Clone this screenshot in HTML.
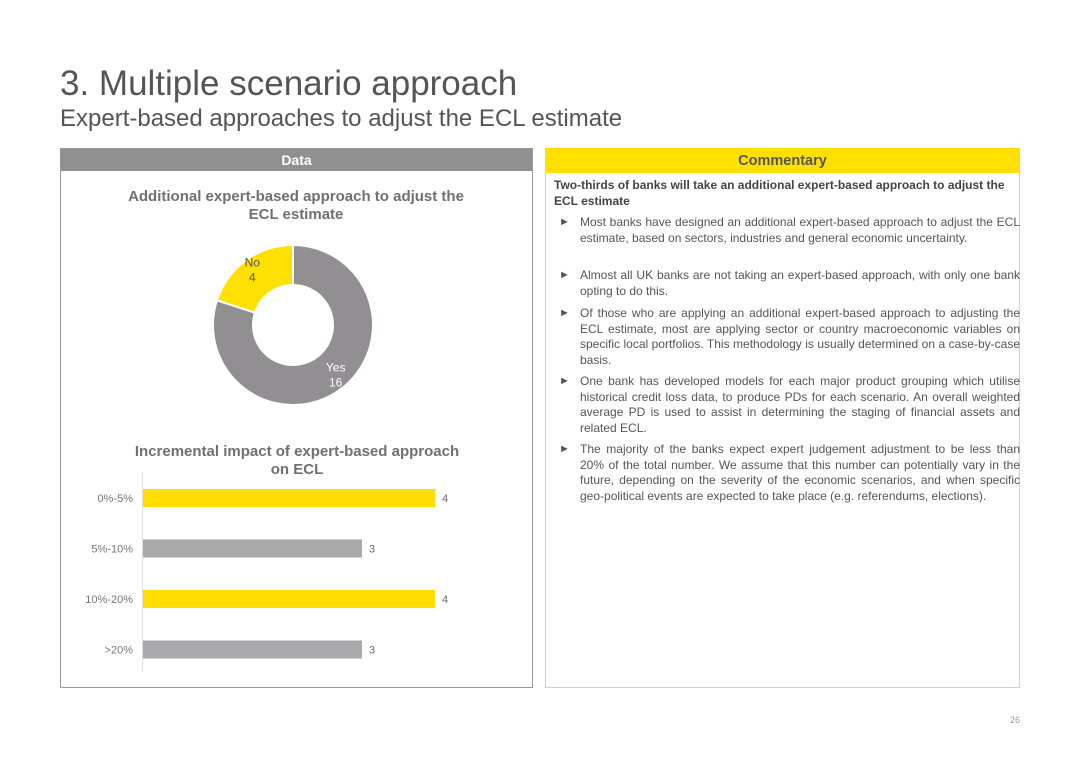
<!DOCTYPE html>
<html><head><meta charset="utf-8"><style>
body{margin:0;width:1080px;height:764px;background:#fff;font-family:"Liberation Sans",sans-serif;position:relative;overflow:hidden;color:#555}
.abs{position:absolute}
#c p{margin:0}
.b{position:absolute;left:26px;width:440px;text-align:justify;font-size:12px;line-height:15.5px;color:#555}
.b:before{content:"►";position:absolute;left:-21px;font-size:11px}
</style></head><body>
<div class="abs" style="left:60px;top:64px;font-size:35px;color:#555">3. Multiple scenario approach</div>
<div class="abs" style="left:60px;top:105px;font-size:24px;color:#555">Expert-based approaches to adjust the ECL estimate</div>

<div class="abs" style="left:60px;top:148px;width:471px;height:538px;border:1px solid #999">
 <div style="background:#918f92;color:#fff;font-weight:bold;text-align:center;height:22px;line-height:22px;font-size:14px">Data</div>
</div>
<svg class="abs" style="left:0;top:0" width="1080" height="764">
 <g id="donut"></g>
 <g id="bars"></g>
 <text x="296" y="201" text-anchor="middle" font-size="15" font-weight="bold" fill="#707070">Additional expert-based approach to adjust the</text>
 <text x="296" y="219" text-anchor="middle" font-size="15" font-weight="bold" fill="#707070">ECL estimate</text>
 <text x="297" y="456" text-anchor="middle" font-size="15" font-weight="bold" fill="#707070">Incremental impact of expert-based approach</text>
 <text x="297" y="474" text-anchor="middle" font-size="15" font-weight="bold" fill="#707070">on ECL</text>
</svg>

<div id="c" class="abs" style="left:545px;top:148px;width:473px;height:538px;border:1px solid #ffe000">
 <div style="background:#ffe000;color:#555;font-weight:bold;text-align:center;height:24px;line-height:24px;font-size:14.5px">Commentary</div>
 <div style="position:relative;margin-left:8px">
 <p style="position:absolute;top:5px;width:466px;font-weight:bold;font-size:12px;line-height:15.5px;color:#444">Two-thirds of banks will take an additional expert-based approach to adjust the ECL estimate</p>
 <p class="b" style="top:42px">Most banks have designed an additional expert-based approach to adjust the ECL estimate, based on sectors, industries and general economic uncertainty.</p>
 <p class="b" style="top:95px">Almost all UK banks are not taking an expert-based approach, with only one bank opting to do this.</p>
 <p class="b" style="top:133px">Of those who are applying an additional expert-based approach to adjusting the ECL estimate, most are applying sector or country macroeconomic variables on specific local portfolios. This methodology is usually determined on a case-by-case basis.</p>
 <p class="b" style="top:201px">One bank has developed models for each major product grouping which utilise historical credit loss data, to produce PDs for each scenario. An overall weighted average PD is used to assist in determining the staging of financial assets and related ECL.</p>
 <p class="b" style="top:269px">The majority of the banks expect expert judgement adjustment to be less than 20% of the total number. We assume that this number can potentially vary in the future, depending on the severity of the economic scenarios, and when specific geo-political events are expected to take place (e.g. referendums, elections).</p>
 </div>
</div>
<div class="abs" style="left:1010px;top:715px;font-size:9px;color:#999">26</div>

<script>
const donutLabels=["Yes","No"];
const donutValues=[16,4];
const barCategories=["0%-5%","5%-10%","10%-20%",">20%"];
const barValues=[4,3,4,3];
const NS="http://www.w3.org/2000/svg";
function mk(t,a,p){const e=document.createElementNS(NS,t);for(const k in a)e.setAttribute(k,a[k]);p.appendChild(e);return e;}
// donut
(function(){
 const g=document.getElementById('donut');const cx=293,cy=325,R=80,r=40;
 const total=donutValues.reduce((a,b)=>a+b,0);let ang=0;
 const cols=["#918f92","#ffe000"];
 donutValues.forEach((v,i)=>{
  const a0=ang,a1=ang+v/total*2*Math.PI;ang=a1;
  const p=(rad,a)=>[cx+rad*Math.sin(a),cy-rad*Math.cos(a)];
  const [x0,y0]=p(R,a0),[x1,y1]=p(R,a1),[x2,y2]=p(r,a1),[x3,y3]=p(r,a0);
  const lg=(a1-a0)>Math.PI?1:0;
  const e=mk('path',{d:`M${x0},${y0}A${R},${R} 0 ${lg} 1 ${x1},${y1}L${x2},${y2}A${r},${r} 0 ${lg} 0 ${x3},${y3}Z`,fill:cols[i],stroke:"#fff","stroke-width":2},g);
  
  
  const am=(a0+a1)/2;const [lx,ly]=p(R*0.78,am);
  const dx=i==0?lx+6:lx-4, dy=i==0?ly-4:ly-8;
  const t1=mk('text',{x:dx,y:dy,"text-anchor":"middle","font-size":12,fill:i==0?"#fff":"#555"},g);t1.textContent=donutLabels[i];
  
  
  const t2=mk('text',{x:dx,y:dy+15,"text-anchor":"middle","font-size":12,fill:i==0?"#fff":"#555"},g);t2.textContent=v;
  
  
 });
})();
// bars
(function(){
 const g=document.getElementById('bars');const x0=143,unit=73,y0=489,step=50.5,h=18;
 const ax=mk('line',{x1:142.5,y1:472,x2:142.5,y2:672,stroke:"#ddd"},g);
 
 
 barCategories.forEach((c,i)=>{
  const y=y0+i*step;
  const r=mk('rect',{x:x0,y:y,width:barValues[i]*unit,height:h,fill:i%2==0?"#ffdd00":"#aaa9ab"},g);
  
  
  const t=mk('text',{x:133,y:y+13,"text-anchor":"end","font-size":11,fill:"#777"},g);t.textContent=c;
  
  
  const v=mk('text',{x:x0+barValues[i]*unit+7,y:y+13,"font-size":11,fill:"#666"},g);v.textContent=barValues[i];
  
  
 });
})();
</script>
</body></html>
